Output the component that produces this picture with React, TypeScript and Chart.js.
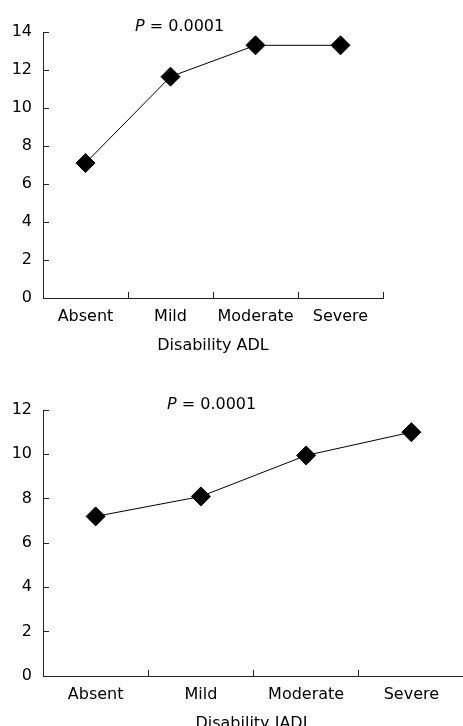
import React, { useEffect, useRef } from "react";
import { Chart, registerables } from "chart.js";

Chart.register(...registerables);

// ---- data ----
const categories = ["Absent", "Mild", "Moderate", "Severe"];
const adlValues = [7.1, 11.65, 13.3, 13.3];
const iadlValues = [7.2, 8.1, 9.95, 11.0];
const adlMax = 14;
const iadlMax = 12;
const yStep = 2;
const adlTitle = "Disability ADL";
const iadlTitle = "Disability IADL";
const pLabel = "P";
const pValue = " = 0.0001";

const FONT = "'DejaVu Sans', Verdana, sans-serif";

type Props = {
  values: number[];
  max: number;
  title: string;
  width: number;
  height: number;
  padRight: number;
  pX: number;
};

function LineChart({ values, max, title, width, height, padRight, pX }: Props) {
  const ref = useRef<HTMLCanvasElement | null>(null);

  useEffect(() => {
    if (!ref.current) return;
    const pPlugin = {
      id: "pText",
      afterDraw(chart: any) {
        const ctx = chart.ctx as CanvasRenderingContext2D;
        ctx.save();
        ctx.fillStyle = "#000";
        ctx.textBaseline = "alphabetic";
        ctx.textAlign = "left";
        ctx.font = `italic 16px ${FONT}`;
        ctx.fillText(pLabel, pX, 31);
        const w = ctx.measureText(pLabel).width;
        ctx.font = `16px ${FONT}`;
        ctx.fillText(pValue, pX + w, 31);
        ctx.restore();
      },
    };
    const font = { size: 16, family: FONT };
    const chart = new Chart(ref.current, {
      type: "line",
      data: {
        labels: categories,
        datasets: [
          {
            data: values,
            borderColor: "#000",
            borderWidth: 1,
            pointStyle: "rectRot",
            pointRadius: 9.5,
            pointBackgroundColor: "#000",
            pointBorderColor: "#000",
            pointBorderWidth: 1,
            tension: 0,
          },
        ],
      },
      options: {
        responsive: false,
        animation: false,
        devicePixelRatio: 1,
        layout: { padding: { top: 32, right: padRight, left: 0, bottom: 0 } },
        plugins: { legend: { display: false }, tooltip: { enabled: false } },
        scales: {
          x: {
            type: "category",
            offset: true,
            grid: {
              offset: true,
              drawOnChartArea: false,
              drawTicks: true,
              tickLength: -6,
              color: "#222",
              lineWidth: 1,
            },
            border: { color: "#222", width: 1 },
            ticks: {
              color: "#000",
              font,
              padding: 15,
              maxRotation: 0,
              autoSkip: false,
            },
            title: {
              display: true,
              text: title,
              color: "#000",
              font,
              padding: { top: 0, bottom: 23 },
            },
            afterFit: (s: any) => {
              s.height = 80;
            },
          },
          y: {
            min: 0,
            max,
            ticks: { stepSize: yStep, color: "#000", font, padding: 17 },
            grid: {
              drawOnChartArea: false,
              drawTicks: true,
              tickLength: -6,
              color: "#222",
              lineWidth: 1,
            },
            border: { color: "#222", width: 1 },
            afterFit: (s: any) => {
              s.width = 43;
            },
          },
        },
      },
      plugins: [pPlugin],
    } as any);
    return () => chart.destroy();
  }, [values, max, title, width, height, padRight, pX]);

  return (
    <canvas
      ref={ref}
      width={width}
      height={height}
      style={{ display: "block", width, height }}
    />
  );
}

export default function App() {
  return (
    <div
      style={{
        position: "fixed",
        left: 0,
        top: 0,
        width: 463,
        height: 726,
        overflow: "hidden",
        background: "#fff",
      }}
    >
      <div style={{ position: "absolute", left: 0, top: 0 }}>
        <LineChart
          values={adlValues}
          max={adlMax}
          title={adlTitle}
          width={463}
          height={378}
          padRight={80}
          pX={135}
        />
      </div>
      <div style={{ position: "absolute", left: 0, top: 378 }}>
        <LineChart
          values={iadlValues}
          max={iadlMax}
          title={iadlTitle}
          width={490}
          height={378}
          padRight={26}
          pX={167}
        />
      </div>
    </div>
  );
}
